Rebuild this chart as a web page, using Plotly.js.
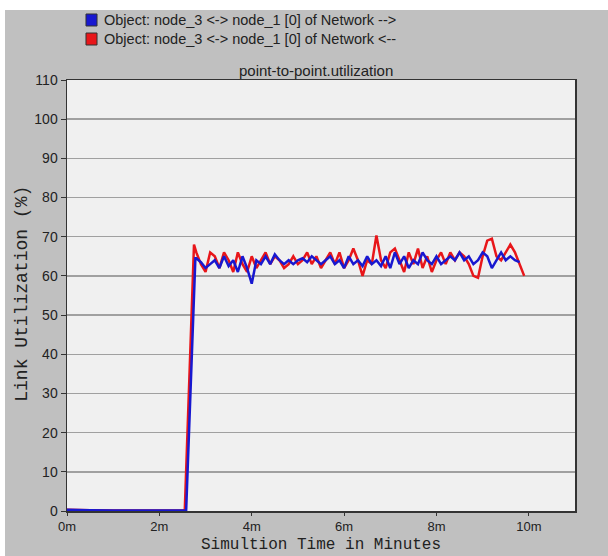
<!DOCTYPE html>
<html>
<head>
<meta charset="utf-8">
<script src="https://cdn.plot.ly/plotly-3.0.1.min.js"></script>
<style>
  html, body { margin: 0; padding: 0; background: #ffffff; }
  #chart { position: absolute; left: 5px; top: 10px; width: 603px; height: 546px; }
</style>
</head>
<body>
<div id="chart"></div>
<script>
// ---- data (minutes, % utilization) ----
const preX = [0, 0.1, 0.5, 1.0, 1.5, 2.0, 2.5];
const preY = [0.3, 0.3, 0.2, 0.1, 0.1, 0.1, 0.1];

const redRiseX = [2.55, 2.75];
const redRiseY = [0.1, 68];
const blueRiseX = [2.58, 2.78];
const blueRiseY = [0.1, 64.5];

const redX = [2.8,2.9,3.0,3.1,3.2,3.3,3.4,3.5,3.6,3.7,3.8,3.9,4.0,4.1,4.2,4.3,4.4,4.5,4.6,4.7,4.8,4.9,5.0,5.1,5.2,5.3,5.4,5.5,5.6,5.7,5.8,5.9,6.0,6.1,6.2,6.3,6.4,6.5,6.6,6.7,6.8,6.9,7.0,7.1,7.2,7.3,7.4,7.5,7.6,7.7,7.8,7.9,8.0,8.1,8.2,8.3,8.4,8.5,8.6,8.7,8.8,8.9,9.0,9.1,9.2,9.3,9.4,9.5,9.6,9.7,9.8,9.9];
const redY = [66,63,61,66,65,62,66,64,61,66,63,61,65,62,64,66,63,65,64,62,63,65,63,64,66,63,65,62,64,66,63,66,62,64,67,64,60,64,63,70.3,64,62,66,67,64,61,66,63,67,62,65,61,64,66,63,66,64,66,65,63,60,59.5,65,69,69.5,65,64,66,68,66,63,60];

const blueX = [2.8,2.9,3.0,3.1,3.2,3.3,3.4,3.5,3.6,3.7,3.8,3.9,4.0,4.1,4.2,4.3,4.4,4.5,4.6,4.7,4.8,4.9,5.0,5.1,5.2,5.3,5.4,5.5,5.6,5.7,5.8,5.9,6.0,6.1,6.2,6.3,6.4,6.5,6.6,6.7,6.8,6.9,7.0,7.1,7.2,7.3,7.4,7.5,7.6,7.7,7.8,7.9,8.0,8.1,8.2,8.3,8.4,8.5,8.6,8.7,8.8,8.9,9.0,9.1,9.2,9.3,9.4,9.5,9.6,9.7,9.8];
const blueY = [64.5,63.5,62,63,64,62,65,62.5,64,61,65,62,58,64,63,65,63,65.5,64,63,64,63,64,64.5,63.5,65,64,63,64,65,63,64,62,65,63,64,62.5,65,63,64,62.5,65,62,66,63,65,62,64,63,66,64,63,65,63,64,65,64,66,64,65,63,64,66,65,62,64,66,64,65,64,63.5];

const xTickVals = [0, 2, 4, 6, 8, 10];
const xTickText = ["0m", "2m", "4m", "6m", "8m", "10m"];
const yTickVals = [0, 10, 20, 30, 40, 50, 60, 70, 80, 90, 100, 110];

const seriesNames = [
  "Object: node_3 <-> node_1 [0] of Network -->",
  "Object: node_3 <-> node_1 [0] of Network <--"
];
const chartTitle = "point-to-point.utilization";
const xTitle = "Simultion Time in Minutes";
const yTitle = "Link Utilization (%)";

const BLUE = "#1818d0";
const RED = "#e8161a";

const traces = [
  { x: preX.concat(redRiseX, redX), y: preY.concat(redRiseY, redY), mode: "lines",
    line: { color: RED, width: 2.5 }, name: seriesNames[1], showlegend: false },
  { x: preX.concat(blueRiseX, blueX), y: preY.concat(blueRiseY, blueY), mode: "lines",
    line: { color: BLUE, width: 2.5 }, name: seriesNames[0], showlegend: false }
];

const sans = "Arial, Liberation Sans, sans-serif";
const tickFont = { family: sans, size: 14, color: "#222" };
const xTickFont = { family: sans, size: 13, color: "#222" };
const monoFont = { family: "Liberation Mono, Courier New, monospace", size: 18, color: "#222" };
const xTitleFont = { family: "Liberation Mono, Courier New, monospace", size: 16, color: "#222" };
const legendFont = { family: sans, size: 14.5, color: "#222" };

const layout = {
  width: 603, height: 546,
  paper_bgcolor: "#c0c0c0",
  plot_bgcolor: "#f0f0f0",
  margin: { l: 62, r: 33, t: 70, b: 45 },
  showlegend: false,
  xaxis: {
    range: [0, 11], tickvals: xTickVals, ticktext: xTickText,
    showgrid: false, zeroline: false,
    showline: true, mirror: true, linecolor: "#333", linewidth: 1.5,
    ticks: "outside", ticklen: 3, tickcolor: "#333", tickfont: xTickFont
  },
  yaxis: {
    range: [0, 110], tickvals: yTickVals,
    showgrid: true, gridcolor: "#a0a0a0", gridwidth: 1.5, zeroline: false,
    showline: true, mirror: true, linecolor: "#333", linewidth: 1.5,
    ticks: "outside", ticklen: 5, tickcolor: "#333", tickfont: tickFont
  },
  annotations: [
    { text: chartTitle, xref: "paper", yref: "paper", x: 0.49, y: 1.023, xanchor: "center", yanchor: "middle",
      showarrow: false, font: { family: sans, size: 15, color: "#222" } },
    { text: xTitle, xref: "paper", yref: "paper", x: 0.5, y: -0.104, xanchor: "center", yanchor: "bottom",
      showarrow: false, font: xTitleFont },
    { text: yTitle, xref: "paper", yref: "paper", x: -0.089, y: 0.5035, xanchor: "center", yanchor: "middle",
      textangle: -90, showarrow: false, font: monoFont },
    { text: seriesNames[0], xref: "paper", yref: "paper", x: 0.0689, y: 1.1392, xanchor: "left", yanchor: "middle",
      showarrow: false, font: legendFont },
    { text: seriesNames[1], xref: "paper", yref: "paper", x: 0.0689, y: 1.0951, xanchor: "left", yanchor: "middle",
      showarrow: false, font: legendFont }
  ],
  shapes: [
    { type: "rect", xref: "paper", yref: "paper", x0: 0.0374, x1: 0.0591, y0: 1.1253, y1: 1.1531,
      fillcolor: BLUE, line: { color: "#333", width: 1 } },
    { type: "rect", xref: "paper", yref: "paper", x0: 0.0374, x1: 0.0591, y0: 1.0812, y1: 1.1090,
      fillcolor: RED, line: { color: "#333", width: 1 } }
  ]
};

Plotly.newPlot("chart", traces, layout, { displayModeBar: false, staticPlot: true });
</script>
</body>
</html>
